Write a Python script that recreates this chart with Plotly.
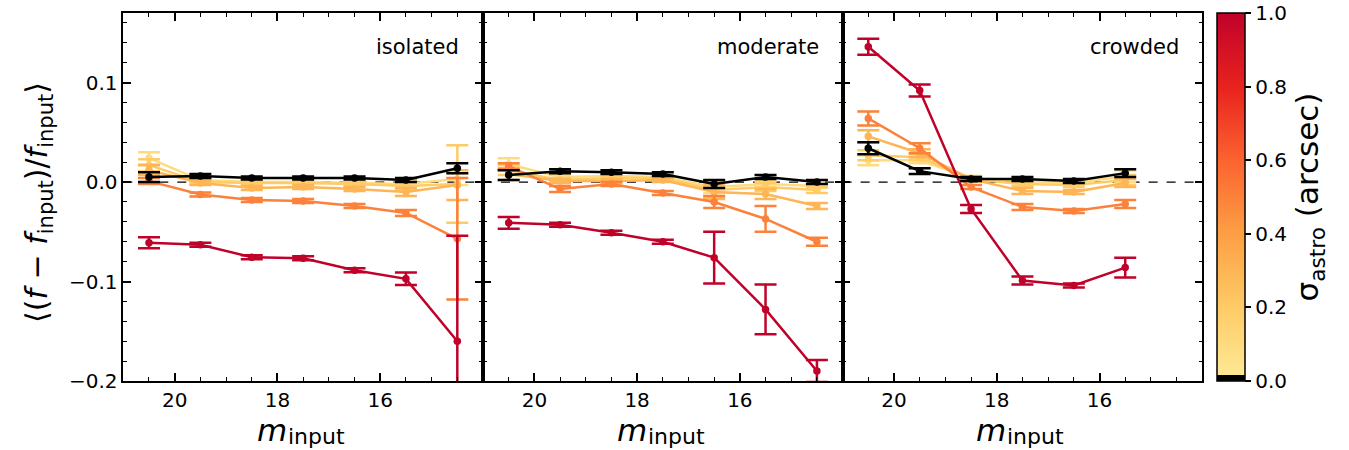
import plotly.graph_objects as go
from plotly.colors import sample_colorscale, hex_to_rgb

# Magnitude bins (centres)
mag_bins = [20.5, 19.5, 18.5, 17.5, 16.5, 15.5, 14.5]
mag_bins_crowded = [20.5, 19.5, 18.5, 17.5, 16.5, 15.5]

# Astrometric scatter of each curve (arcsec)
sigma_astro = [0.0, 0.1, 0.2, 0.3, 0.5, 1.0]

panel_names = ["isolated", "moderate", "crowded"]

# Mean fractional flux offsets and their errors, per sigma_astro
isolated_mean = [
    [0.005, 0.006, 0.004, 0.004, 0.004, 0.002, 0.014],
    [0.024, 0.002, 0.000, 0.000, -0.001, -0.002, 0.003],
    [0.017, 0.000, -0.001, -0.001, -0.002, -0.004, -0.002],
    [0.012, -0.001, -0.006, -0.005, -0.007, -0.010, -0.003],
    [0.001, -0.0125, -0.018, -0.019, -0.024, -0.031, -0.057],
    [-0.061, -0.063, -0.0755, -0.0766, -0.0886, -0.0973, -0.160],
]
isolated_err = [
    [0.005, 0.002, 0.0015, 0.0015, 0.0015, 0.002, 0.005],
    [0.006, 0.002, 0.002, 0.002, 0.002, 0.004, 0.006],
    [0.006, 0.002, 0.002, 0.002, 0.002, 0.004, 0.039],
    [0.005, 0.002, 0.002, 0.002, 0.002, 0.004, 0.015],
    [0.003, 0.002, 0.002, 0.002, 0.002, 0.003, 0.061],
    [0.0055, 0.002, 0.002, 0.002, 0.002, 0.0063, 0.106],
]

moderate_mean = [
    [0.007, 0.011, 0.010, 0.008, -0.002, 0.005, 0.000],
    [0.018, 0.005, 0.006, 0.005, -0.005, -0.002, -0.004],
    [0.012, 0.002, 0.004, 0.004, -0.008, -0.005, -0.008],
    [0.008, 0.001, 0.001, 0.002, -0.010, -0.012, -0.024],
    [0.016, -0.007, -0.002, -0.011, -0.020, -0.037, -0.060],
    [-0.041, -0.043, -0.051, -0.060, -0.076, -0.128, -0.190],
]
moderate_err = [
    [0.005, 0.002, 0.002, 0.002, 0.004, 0.002, 0.002],
    [0.006, 0.002, 0.002, 0.002, 0.006, 0.003, 0.002],
    [0.005, 0.002, 0.002, 0.002, 0.008, 0.004, 0.003],
    [0.006, 0.002, 0.002, 0.002, 0.007, 0.005, 0.003],
    [0.003, 0.003, 0.002, 0.002, 0.006, 0.013, 0.004],
    [0.006, 0.002, 0.002, 0.002, 0.026, 0.025, 0.011],
]

crowded_mean = [
    [0.034, 0.011, 0.003, 0.003, 0.001, 0.009],
    [0.022, 0.022, 0.004, 0.001, -0.001, 0.006],
    [0.027, 0.025, 0.003, -0.002, -0.003, 0.002],
    [0.046, 0.029, 0.003, -0.009, -0.010, -0.001],
    [0.064, 0.034, -0.005, -0.025, -0.029, -0.022],
    [0.136, 0.092, -0.027, -0.099, -0.104, -0.086],
]
crowded_err = [
    [0.006, 0.003, 0.002, 0.002, 0.002, 0.004],
    [0.005, 0.003, 0.002, 0.002, 0.002, 0.006],
    [0.005, 0.003, 0.002, 0.002, 0.002, 0.005],
    [0.006, 0.004, 0.002, 0.003, 0.002, 0.004],
    [0.007, 0.005, 0.002, 0.003, 0.002, 0.004],
    [0.008, 0.006, 0.004, 0.004, 0.002, 0.010],
]

y_ticks = [-0.2, -0.1, 0.0, 0.1]
x_ticks = [20, 18, 16]


def rgb(hex_color):
    r, g, b = hex_to_rgb(hex_color)
    return f"rgb({r},{g},{b})"


# Colour map for sigma_astro: black at zero, then yellow -> orange -> red
CUT = 0.015
warm_stops = [
    [0.0, "#fee895"], [0.2, "#fecb66"], [0.4, "#fd9f44"],
    [0.6, "#fc6330"], [0.8, "#e8221e"], [1.0, "#c0022a"],
]
cmap = [[0.0, rgb("#000000")], [CUT, rgb("#000000")], [CUT, rgb(warm_stops[0][1])]]
cmap += [[v, rgb(c)] for v, c in warm_stops[1:]]
warm_scale = [[0.0, rgb(warm_stops[0][1])]] + \
    [[(v - CUT) / (1 - CUT), rgb(c)] for v, c in warm_stops[1:]]


def sigma_color(s):
    if s <= CUT:
        return "rgb(0,0,0)"
    return sample_colorscale(warm_scale, [(s - CUT) / (1 - CUT)])[0]


FONT = "DejaVu Sans"
W, H = 1349, 450
H_VIEW = 438  # drawable page height used for pixel -> paper placement
top_px, bot_px = 13, 381
edges_px = [123.3, 483.0, 842.6, 1202.3]


def py(px):
    return 1 - px / H_VIEW


ydom = [py(bot_px), py(top_px)]

fig = go.Figure()

panels = [
    (mag_bins, isolated_mean, isolated_err),
    (mag_bins, moderate_mean, moderate_err),
    (mag_bins_crowded, crowded_mean, crowded_err),
]

for p, (xs, means, errs) in enumerate(panels):
    xa = "x" if p == 0 else f"x{p + 1}"
    ya = "y" if p == 0 else f"y{p + 1}"
    # colored curves first, zero-scatter (black) on top
    order = list(range(1, len(sigma_astro))) + [0]
    for k in order:
        col = sigma_color(sigma_astro[k])
        fig.add_trace(go.Scatter(
            x=xs, y=means[k], xaxis=xa, yaxis=ya,
            mode="lines+markers",
            line=dict(color=col, width=2.5),
            marker=dict(color=col, size=7.5),
            error_y=dict(type="data", array=errs[k], color=col,
                         thickness=2.5, width=11),
            showlegend=False, hoverinfo="skip",
        ))

# dummy trace carrying the colour bar
fig.add_trace(go.Scatter(
    x=[None], y=[None], mode="markers", xaxis="x", yaxis="y",
    marker=dict(
        color=[0], cmin=0, cmax=1, colorscale=cmap, showscale=True,
        colorbar=dict(
            x=1217 / W, xanchor="left", xpad=0, ypad=0,
            y=ydom[1], yanchor="top", len=ydom[1] - ydom[0], lenmode="fraction",
            thickness=28, outlinewidth=1.5, outlinecolor="black",
            tickvals=[0, 0.2, 0.4, 0.6, 0.8, 1.0], tickformat=".1f",
            ticks="outside", ticklen=6, tickwidth=1.5, tickcolor="black",
            tickfont=dict(family=FONT, size=20, color="black"),
            title=dict(text="σ<sub>astro</sub> (arcsec)", side="right",
                       font=dict(family=FONT, size=31, color="black")),
        ),
    ),
    showlegend=False, hoverinfo="skip",
))

axis_common = dict(
    showline=True, linecolor="black", linewidth=1.5, mirror="allticks",
    ticks="inside", tickcolor="black", tickwidth=1.5, ticklen=8,
    showgrid=False, zeroline=False,
    tickfont=dict(family=FONT, size=20, color="black"),
)

layout = dict(
    width=W, height=H, margin=dict(l=0, r=0, t=0, b=0),
    paper_bgcolor="white", plot_bgcolor="white",
    shapes=[], annotations=[],
)

for p in range(3):
    xk = "xaxis" if p == 0 else f"xaxis{p + 1}"
    yk = "yaxis" if p == 0 else f"yaxis{p + 1}"
    ya = "y" if p == 0 else f"y{p + 1}"
    xa = "x" if p == 0 else f"x{p + 1}"
    layout[xk] = dict(
        axis_common, domain=[edges_px[p] / W, edges_px[p + 1] / W],
        anchor=ya, range=[21, 14], tickmode="array", tickvals=x_ticks,
        minor=dict(ticks="inside", dtick=0.5, tick0=0, ticklen=4,
                   tickcolor="black", tickwidth=1.2),
    )
    layout[yk] = dict(
        axis_common, domain=ydom, anchor=xa, range=[-0.2, 0.17],
        tickmode="array", tickvals=y_ticks, tickformat=".1f",
        showticklabels=(p == 0),
        minor=dict(ticks="inside", dtick=0.02, tick0=0, ticklen=4,
                   tickcolor="black", tickwidth=1.2),
    )
    if p > 0:
        layout[yk]["matches"] = "y"
    # zero reference line
    layout["shapes"].append(dict(
        type="line", xref=f"{xa} domain", yref=ya, x0=0, x1=1, y0=0, y1=0,
        line=dict(color="black", width=1.2, dash="dash"), layer="below",
    ))
    # panel name
    layout["annotations"].append(dict(
        text=panel_names[p], xref=f"{xa} domain", yref=f"{ya} domain",
        x=0.94, y=0.908, xanchor="right", yanchor="middle", showarrow=False,
        font=dict(family=FONT, size=21, color="black"),
    ))
    # x-axis title: italic m with a smaller "input" subscript
    layout["annotations"].append(dict(
        text="<i>m</i>", xref=f"{xa} domain", yref="paper",
        x=0.5, xshift=-15, y=py(430), xanchor="right", yanchor="middle",
        showarrow=False, borderpad=0,
        font=dict(family=FONT, size=31, color="black"),
    ))
    layout["annotations"].append(dict(
        text="input", xref=f"{xa} domain", yref="paper",
        x=0.5, xshift=-16, y=py(436), xanchor="left", yanchor="middle",
        showarrow=False, borderpad=0,
        font=dict(family=FONT, size=22, color="black"),
    ))

layout["annotations"].append(dict(
    text="⟨(<i>f</i> − <i>f</i><sub>input</sub>)/<i>f</i><sub>input</sub>⟩",
    xref="paper", yref="paper", x=38 / W, y=py(203),
    xanchor="center", yanchor="middle", textangle=-90, showarrow=False,
    font=dict(family=FONT, size=30, color="black"),
))

fig.update_layout(**layout)
fig.write_html("out.html")
